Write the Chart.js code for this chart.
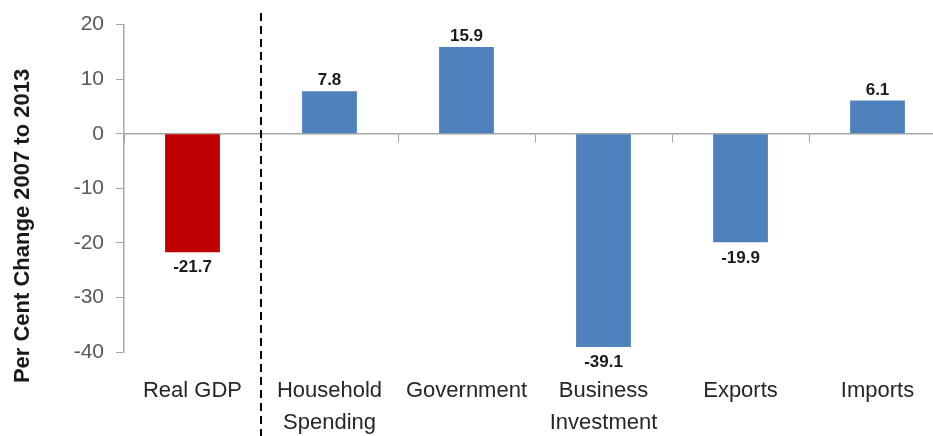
<!DOCTYPE html>
<html lang="en">
<head>
  <meta charset="UTF-8">
  <title>Per Cent Change 2007 to 2013</title>
  <script src="https://cdn.jsdelivr.net/npm/chart.js"></script>
  <style>
    html, body { margin: 0; padding: 0; background: #fff; overflow: hidden; }
    #wrap { position: relative; width: 950px; height: 436px; }
  </style>
</head>
<body>
  <div id="wrap"><canvas id="chart"></canvas></div>

  <script>
    // data
    const categories = ['Real GDP', ['Household', 'Spending'], 'Government', ['Business', 'Investment'], 'Exports', 'Imports'];
    const changes = [-21.7, 7.8, 15.9, -39.1, -19.9, 6.1];
    const barColors = ['#C00000', '#4F81BD', '#4F81BD', '#4F81BD', '#4F81BD', '#4F81BD'];
    const yTicks = [20, 10, 0, -10, -20, -30, -40];
    const yTitle = 'Per Cent Change 2007 to 2013';

    const fontFamily = '"Liberation Sans", Arial, sans-serif';

    // value labels above / below each bar
    const valueLabels = {
      id: 'valueLabels',
      afterDatasetsDraw(chart) {
        const ctx = chart.ctx;
        const meta = chart.getDatasetMeta(0);
        ctx.save();
        ctx.font = 'bold 17px ' + fontFamily;
        ctx.fillStyle = '#1a1a1a';
        ctx.textAlign = 'center';
        meta.data.forEach((bar, i) => {
          const v = changes[i];
          if (v >= 0) {
            ctx.textBaseline = 'bottom';
            ctx.fillText(v.toFixed(1), bar.x, bar.y - 2);
          } else {
            ctx.textBaseline = 'top';
            ctx.fillText(v.toFixed(1), bar.x, bar.y + 7);
          }
        });
        ctx.restore();
      }
    };

    // dashed separator between Real GDP and the components, plus the axis title
    const extras = {
      id: 'extras',
      afterDraw(chart) {
        const x = chart.scales.x;
        const px = (x.getPixelForValue(0) + x.getPixelForValue(1)) / 2;
        const ctx = chart.ctx;
        ctx.save();
        ctx.strokeStyle = '#000';
        ctx.lineWidth = 2;
        ctx.setLineDash([8, 5]);
        ctx.beginPath();
        ctx.moveTo(px, 13);
        ctx.lineTo(px, chart.height);
        ctx.stroke();
        ctx.restore();

        // y title sits lower than the plot centre in the original
        ctx.save();
        ctx.translate(23, 226);
        ctx.rotate(-Math.PI / 2);
        ctx.font = 'bold 22px ' + fontFamily;
        ctx.fillStyle = '#1a1a1a';
        ctx.textAlign = 'center';
        ctx.textBaseline = 'middle';
        ctx.fillText(yTitle, 0, 0);
        ctx.restore();
      }
    };

    new Chart(document.getElementById('chart'), {
      type: 'bar',
      data: {
        labels: categories,
        datasets: [{
          data: changes,
          backgroundColor: barColors,
          borderWidth: 0,
          barPercentage: 0.4,
          categoryPercentage: 1.0
        }]
      },
      options: {
        responsive: true,
        maintainAspectRatio: false,
        animation: false,
        layout: { padding: { top: 19, right: 4, left: 0, bottom: 0 } },
        plugins: {
          legend: { display: false },
          tooltip: { enabled: false }
        },
        scales: {
          x: {
            position: 'bottom',
            grid: { display: false },
            border: { display: false },
            ticks: {
              color: '#262626',
              font: { family: fontFamily, size: 22, lineHeight: 1.45 },
              padding: 15,
              maxRotation: 0,
              autoSkip: false
            },
            afterFit(scale) { scale.height = 84; }
          },
          xZero: {
            type: 'category',
            labels: categories,
            position: { y: 0 },
            offset: true,
            grid: {
              offset: true,
              drawOnChartArea: false,
              tickLength: 8,
              color: '#a6a6a6'
            },
            border: { color: '#a6a6a6', width: 1.5 },
            ticks: { display: false }
          },
          y: {
            min: -40,
            max: 20,
            afterBuildTicks(scale) { scale.ticks = yTicks.map(v => ({ value: v })); },
            grid: {
              drawOnChartArea: false,
              tickLength: 8,
              color: '#a6a6a6'
            },
            border: { color: '#a6a6a6', width: 1.5 },
            ticks: {
              color: '#595959',
              font: { family: fontFamily, size: 21 },
              padding: 12
            },
            afterFit(scale) { scale.width = 124; }
          }
        }
      },
      plugins: [valueLabels, extras]
    });
  </script>
</body>
</html>
